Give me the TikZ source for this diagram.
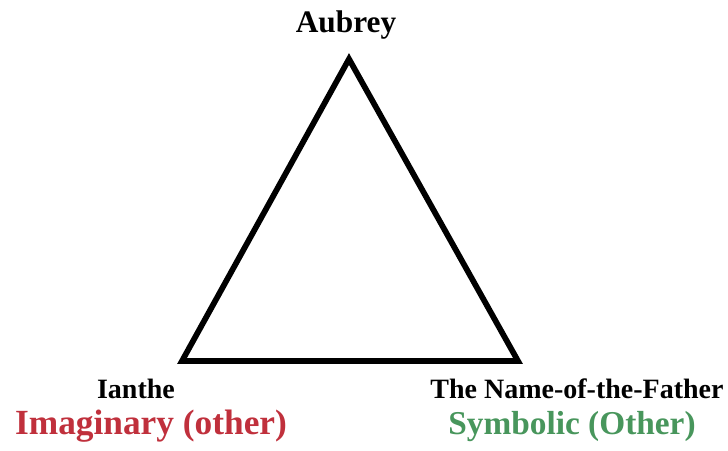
\documentclass[tikz,border=0pt]{standalone}
\usepackage{fontspec}
\setmainfont{Liberation Serif}
\definecolor{imagred}{RGB}{192,48,60}
\definecolor{symbgreen}{RGB}{72,150,92}
\begin{document}
\begin{tikzpicture}[x=0.75pt,y=-0.75pt,
  lbl/.style={anchor=base,inner sep=0pt,font=\fontsize{21}{24}\selectfont\bfseries},
  reg/.style={anchor=base,inner sep=0pt,font=\fontsize{26.5}{30}\selectfont\bfseries},
  tri/.style={line width=4.3pt,line join=miter}]
\useasboundingbox[fill=white] (0,0) rectangle (728,450);
\coordinate (A) at (349,59);
\coordinate (B) at (182,361);
\coordinate (C) at (518,361);
\draw[tri] (A) -- (B) -- (C) -- cycle;
\node[lbl,font=\fontsize{23.5}{26}\selectfont\bfseries] (aubrey) at (346,32) {Aubrey};
\node[lbl] (ianthe) at (136,398) {Ianthe};
\node[lbl] (father) at (577,398) {The Name-of-the-Father};
\node[reg,text=imagred] (imag) at (151,434) {Imaginary (other)};
\node[reg,text=symbgreen,font=\fontsize{25}{30}\selectfont\bfseries] (symb) at (572,434) {Symbolic (Other)};
\end{tikzpicture}
\end{document}
